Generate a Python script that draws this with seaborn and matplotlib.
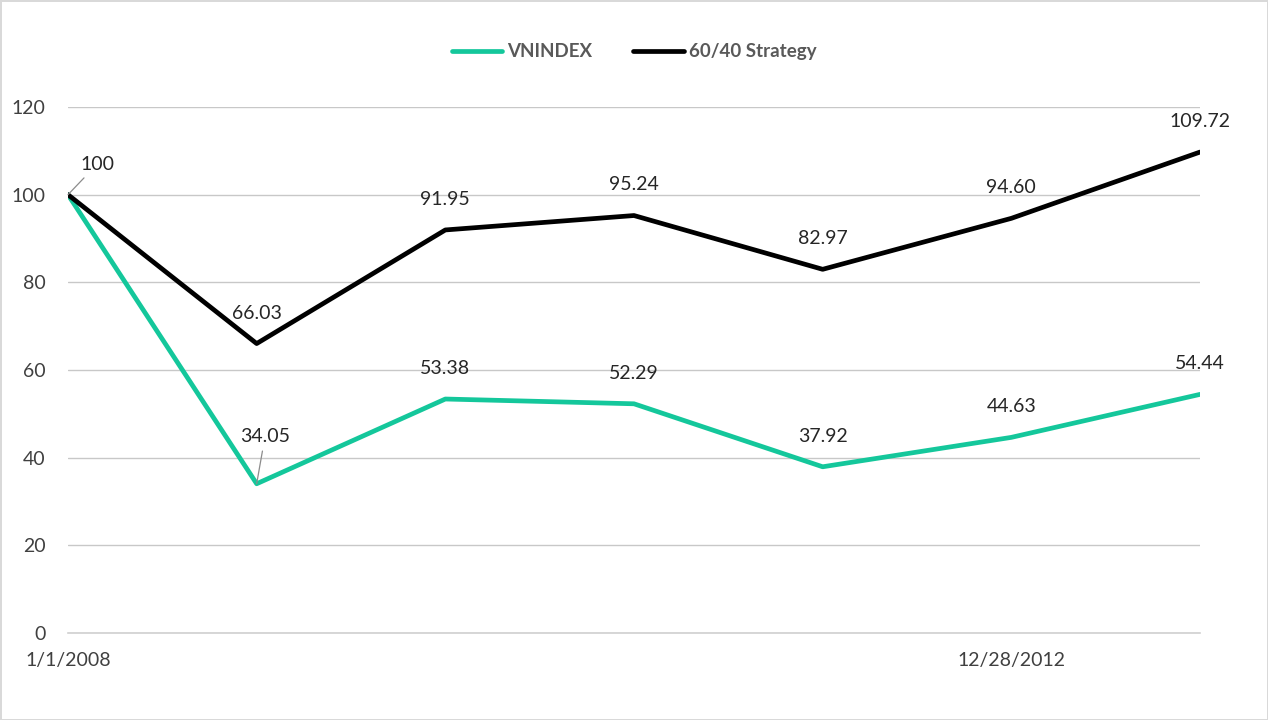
import pandas as pd
import seaborn as sns
import matplotlib.pyplot as plt

dates = ["1/1/2008", "", "", "", "", "12/28/2012", ""]
vnindex = [100, 34.05, 53.38, 52.29, 37.92, 44.63, 54.44]
strategy = [100, 66.03, 91.95, 95.24, 82.97, 94.60, 109.72]
series_names = ["VNINDEX", "60/40 Strategy"]
colors = ["#14c79b", "#000000"]

sns.set_style("white")
plt.rcParams['font.family'] = ['Lato', 'DejaVu Sans']

steps = list(range(len(vnindex)))
df = pd.DataFrame({
    "step": steps * 2,
    "value": vnindex + strategy,
    "series": [series_names[0]] * len(vnindex) + [series_names[1]] * len(strategy),
})

fig = plt.figure(figsize=(12.68, 7.2), dpi=100)
fig.patch.set_edgecolor("#d9d9d9")
fig.patch.set_linewidth(2)
ax = fig.add_axes([68 / 1268, 87 / 720, 1132 / 1268, 526 / 720])

sns.lineplot(data=df, x="step", y="value", hue="series", palette=colors,
             linewidth=3.4, ax=ax, legend=True)

ax.set_xlim(0, len(steps) - 1)
ax.set_ylim(0, 120)
ax.set_yticks(range(0, 121, 20))
ax.set_xticks(steps)
ax.set_xticklabels(dates)
ax.set_xlabel("")
ax.set_ylabel("")
ax.grid(axis="y", color="#c8c8c8", linewidth=1)
ax.set_axisbelow(True)
for s in ["top", "right", "left"]:
    ax.spines[s].set_visible(False)
ax.spines["bottom"].set_color("#d0d0d0")
ax.spines["bottom"].set_linewidth(1.2)
ax.spines["bottom"].set_bounds(0, len(steps) - 1)
ax.tick_params(axis="x", length=6, color="#d0d0d0", labelsize=14, labelcolor="#404040", pad=8)
ax.tick_params(axis="y", length=0, labelsize=14, labelcolor="#404040", pad=16)

# data labels
txt = dict(ha="center", va="center", fontsize=14, color="#262626")
leader = dict(arrowstyle="-", color="#8c8c8c", lw=0.9, shrinkA=2, shrinkB=0)
for i, v in enumerate(strategy):
    if i == 0:
        continue
    ax.annotate(f"{v:.2f}", (i, v), xytext=(0, 22), textcoords="offset points", **txt)
for i, v in enumerate(vnindex):
    if i == 0:
        continue
    if i == 1:
        ax.annotate(f"{v:.2f}", (i, v), xytext=(6, 34), textcoords="offset points",
                    arrowprops=leader, **txt)
    else:
        ax.annotate(f"{v:.2f}", (i, v), xytext=(0, 22), textcoords="offset points", **txt)
ax.annotate(f"{vnindex[0]:.0f}", (0, vnindex[0]), xytext=(21, 22), textcoords="offset points",
            arrowprops=leader, **txt)

handles, labels = ax.get_legend_handles_labels()
leg = ax.legend(handles, labels, loc="center", bbox_to_anchor=(0.5, 1.105), ncol=2,
                frameon=False, handlelength=2.7, handletextpad=0.25, columnspacing=2.2,
                prop={"weight": "bold", "size": 13.5})
for t in leg.get_texts():
    t.set_color("#595959")
for h in leg.get_lines():
    h.set_linewidth(3.4)

fig.savefig("out.png", dpi=100, edgecolor=fig.get_edgecolor())
